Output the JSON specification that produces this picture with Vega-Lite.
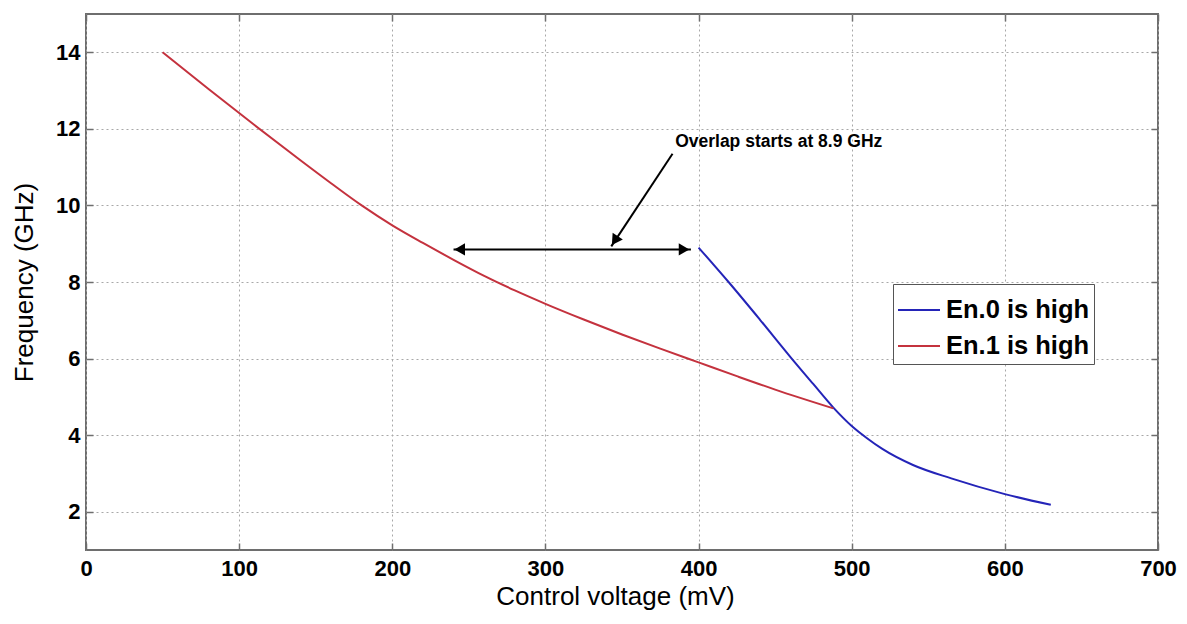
{
  "$schema": "https://vega.github.io/schema/vega-lite/v6.json",
  "width": 1072,
  "height": 536,
  "autosize": {"type": "none"},
  "padding": {"left": 86, "top": 14, "right": 29, "bottom": 74},
  "background": "white",
  "config": {
    "font": "Liberation Sans",
    "view": {"stroke": "#6e6e6e", "strokeWidth": 2},
    "axis": {
      "domain": false,
      "gridColor": "#a8a8a8",
      "gridDash": [2, 3],
      "gridWidth": 1,
      "tickColor": "#6e6e6e",
      "tickWidth": 1.5,
      "tickSize": -7,
      "labelFlush": false,
      "labelColor": "black",
      "labelFont": "Liberation Sans",
      "labelFontWeight": "bold",
      "labelFontSize": 22,
      "titleColor": "black",
      "titleFont": "Liberation Sans",
      "titleFontWeight": "normal",
      "titleFontSize": 26
    }
  },
  "datasets": {
    "curves": [
      {"series": "En.0 is high", "v": 400, "f": 8.9},
      {"series": "En.0 is high", "v": 420, "f": 7.98},
      {"series": "En.0 is high", "v": 440, "f": 7.02},
      {"series": "En.0 is high", "v": 460, "f": 6.04},
      {"series": "En.0 is high", "v": 475, "f": 5.33},
      {"series": "En.0 is high", "v": 488, "f": 4.72},
      {"series": "En.0 is high", "v": 500, "f": 4.24},
      {"series": "En.0 is high", "v": 510, "f": 3.92},
      {"series": "En.0 is high", "v": 520, "f": 3.64},
      {"series": "En.0 is high", "v": 540, "f": 3.22},
      {"series": "En.0 is high", "v": 565, "f": 2.87},
      {"series": "En.0 is high", "v": 600, "f": 2.46},
      {"series": "En.0 is high", "v": 630, "f": 2.18},
      {"series": "En.1 is high", "v": 50, "f": 14.0},
      {"series": "En.1 is high", "v": 80, "f": 13.04},
      {"series": "En.1 is high", "v": 110, "f": 12.1},
      {"series": "En.1 is high", "v": 140, "f": 11.18},
      {"series": "En.1 is high", "v": 160, "f": 10.58},
      {"series": "En.1 is high", "v": 180, "f": 10.0},
      {"series": "En.1 is high", "v": 200, "f": 9.48},
      {"series": "En.1 is high", "v": 220, "f": 9.02},
      {"series": "En.1 is high", "v": 240, "f": 8.58},
      {"series": "En.1 is high", "v": 260, "f": 8.16},
      {"series": "En.1 is high", "v": 280, "f": 7.78},
      {"series": "En.1 is high", "v": 300, "f": 7.43},
      {"series": "En.1 is high", "v": 325, "f": 7.02},
      {"series": "En.1 is high", "v": 350, "f": 6.63},
      {"series": "En.1 is high", "v": 375, "f": 6.26},
      {"series": "En.1 is high", "v": 400, "f": 5.9},
      {"series": "En.1 is high", "v": 425, "f": 5.54},
      {"series": "En.1 is high", "v": 450, "f": 5.19},
      {"series": "En.1 is high", "v": 488, "f": 4.7}
    ],
    "segments": [
      {"v1": 240, "f1": 8.85, "v2": 395, "f2": 8.85},
      {"v1": 383, "f1": 11.35, "v2": 343, "f2": 8.93}
    ],
    "headLeft": [{"v": 244, "f": 8.85}],
    "headRight": [{"v": 390.5, "f": 8.85}],
    "headDiag": [{"v": 345.3, "f": 9.08}],
    "note": [{"v": 384.7, "f": 11.65, "label": "Overlap starts at 8.9 GHz"}]
  },
  "resolve": {"axis": {"x": "independent", "y": "independent"}},
  "layer": [
    {
      "data": {"name": "curves"},
      "mark": {"type": "line", "strokeWidth": 2, "interpolate": "monotone"},
      "encoding": {
        "x": {
          "field": "v", "type": "quantitative",
          "scale": {"domain": [0, 700], "nice": false, "zero": false},
          "axis": {
            "title": "Control voltage (mV)",
            "values": [0, 100, 200, 300, 400, 500, 600, 700],
            "labelPadding": 15,
            "titleY": 54,
            "titleBaseline": "alphabetic",
            "titleX": 529
          }
        },
        "y": {
          "field": "f", "type": "quantitative",
          "scale": {"domain": [1, 15], "nice": false, "zero": false},
          "axis": {
            "title": "Frequency (GHz)",
            "values": [2, 4, 6, 8, 10, 12, 14],
            "labelPadding": 13,
            "titleX": -54,
            "titleBaseline": "alphabetic"
          }
        },
        "color": {
          "field": "series", "type": "nominal",
          "scale": {"domain": ["En.0 is high", "En.1 is high"], "range": ["#2424b8", "#c4323e"]},
          "legend": {
            "title": null,
            "orient": "none",
            "legendX": 807,
            "legendY": 270,
            "symbolType": "stroke",
            "symbolSize": 1764,
            "symbolStrokeWidth": 2,
            "labelFontSize": 25.5,
            "labelFontWeight": "bold",
            "labelColor": "black",
            "labelFont": "Liberation Sans",
            "labelOffset": 5,
            "strokeColor": "#555555",
            "fillColor": "white",
            "padding": 4,
            "rowPadding": -4
          }
        }
      }
    },
    {
      "data": {"name": "curves"},
      "mark": {"type": "point", "opacity": 0},
      "encoding": {
        "x": {
          "field": "v", "type": "quantitative",
          "axis": {"orient": "top", "title": null, "labels": false, "grid": false, "values": [0, 100, 200, 300, 400, 500, 600, 700]}
        },
        "y": {
          "field": "f", "type": "quantitative",
          "axis": {"orient": "right", "title": null, "labels": false, "grid": false, "values": [2, 4, 6, 8, 10, 12, 14]}
        }
      }
    },
    {
      "data": {"name": "segments"},
      "mark": {"type": "rule", "color": "black", "strokeWidth": 2},
      "encoding": {
        "x": {"field": "v1", "type": "quantitative", "axis": null},
        "y": {"field": "f1", "type": "quantitative", "axis": null},
        "x2": {"field": "v2"},
        "y2": {"field": "f2"}
      }
    },
    {
      "data": {"name": "headLeft"},
      "mark": {"type": "point", "shape": "triangle-left", "filled": true, "color": "black", "opacity": 1, "size": 150},
      "encoding": {
        "x": {"field": "v", "type": "quantitative", "axis": null},
        "y": {"field": "f", "type": "quantitative", "axis": null}
      }
    },
    {
      "data": {"name": "headRight"},
      "mark": {"type": "point", "shape": "triangle-right", "filled": true, "color": "black", "opacity": 1, "size": 150},
      "encoding": {
        "x": {"field": "v", "type": "quantitative", "axis": null},
        "y": {"field": "f", "type": "quantitative", "axis": null}
      }
    },
    {
      "data": {"name": "headDiag"},
      "mark": {"type": "point", "shape": "triangle-up", "angle": 213.6, "filled": true, "color": "black", "opacity": 1, "size": 150},
      "encoding": {
        "x": {"field": "v", "type": "quantitative", "axis": null},
        "y": {"field": "f", "type": "quantitative", "axis": null}
      }
    },
    {
      "data": {"name": "note"},
      "mark": {"type": "text", "align": "left", "baseline": "middle", "font": "Liberation Sans", "fontWeight": "bold", "fontSize": 17.5, "color": "black"},
      "encoding": {
        "x": {"field": "v", "type": "quantitative", "axis": null},
        "y": {"field": "f", "type": "quantitative", "axis": null},
        "text": {"field": "label"}
      }
    }
  ]
}
